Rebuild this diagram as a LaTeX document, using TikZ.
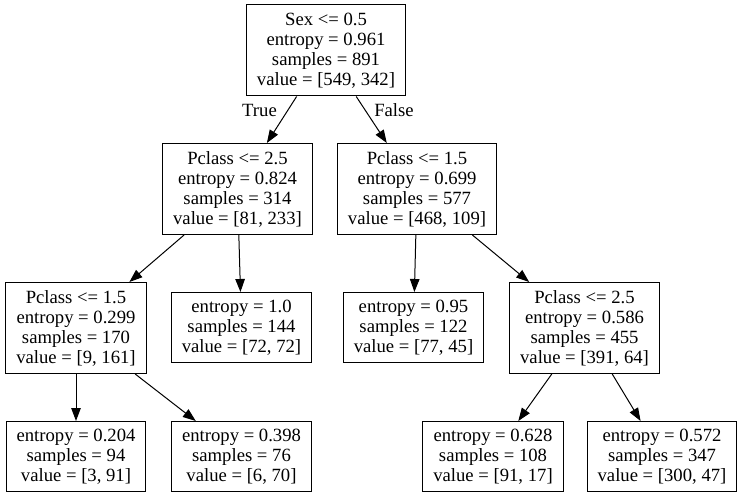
\documentclass[tikz,border=0pt]{standalone}
\usepackage{fontspec}
\setmainfont{Liberation Serif}
\usetikzlibrary{shapes}
\usetikzlibrary{arrows.meta}
\tikzset{
    treenode/.style = {rectangle, draw=black, line width=1pt, align=center, inner xsep=10.5pt, inner ysep=0pt, minimum height=91pt, font=\fontsize{18.67}{20}\selectfont},
    treeleaf/.style = {treenode, minimum height=70pt},
    edgelabel/.style = {draw=none, font=\fontsize{18.67}{20}\selectfont},
    edgen/.style = {-{Triangle[length=13pt,width=9.5pt]}, line width=1pt, black},
}
\begin{document}
\begin{tikzpicture}[x=1pt,y=-1pt]
\useasboundingbox (0,0) rectangle (743,497);
%
\node[treenode] at (326,50.5) (sex) {Sex <= 0.5\\entropy = 0.961\\samples = 891\\value = [549, 342]};
\node[treenode] at (237.5,189) (pa) {Pclass <= 2.5\\entropy = 0.824\\samples = 314\\value = [81, 233]};
\node[treenode] at (417,189) (pb) {Pclass <= 1.5\\entropy = 0.699\\samples = 577\\value = [468, 109]};
\node[treenode] at (76,328) (pc) {Pclass <= 1.5\\entropy = 0.299\\samples = 170\\value = [9, 161]};
\node[treeleaf] at (241.5,327.5) (la) {entropy = 1.0\\samples = 144\\value = [72, 72]};
\node[treeleaf] at (413.5,327.5) (lb) {entropy = 0.95\\samples = 122\\value = [77, 45]};
\node[treenode] at (584.5,328) (pd) {Pclass <= 2.5\\entropy = 0.586\\samples = 455\\value = [391, 64]};
\node[treeleaf] at (76,456.5) (lc) {entropy = 0.204\\samples = 94\\value = [3, 91]};
\node[treeleaf] at (241.5,456.5) (ld) {entropy = 0.398\\samples = 76\\value = [6, 70]};
\node[treeleaf] at (493,456.5) (le) {entropy = 0.628\\samples = 108\\value = [91, 17]};
\node[treeleaf] at (662,456.5) (lf) {entropy = 0.572\\samples = 347\\value = [300, 47]};
\node[edgelabel] at (259.5,110) (ltrue) {True};
\node[edgelabel] at (394,110) (lfalse) {False};
%
\draw[edgen] (sex) edge node {} (pa);
\draw[edgen] (sex) edge node {} (pb);
\draw[edgen] (pa) edge node {} (pc);
\draw[edgen] (pa) edge node {} (la);
\draw[edgen] (pb) edge node {} (lb);
\draw[edgen] (pb) edge node {} (pd);
\draw[edgen] (pc) edge node {} (lc);
\draw[edgen] (pc) edge node {} (ld);
\draw[edgen] (pd) edge node {} (le);
\draw[edgen] (pd) edge node {} (lf);
\end{tikzpicture}
\end{document}
